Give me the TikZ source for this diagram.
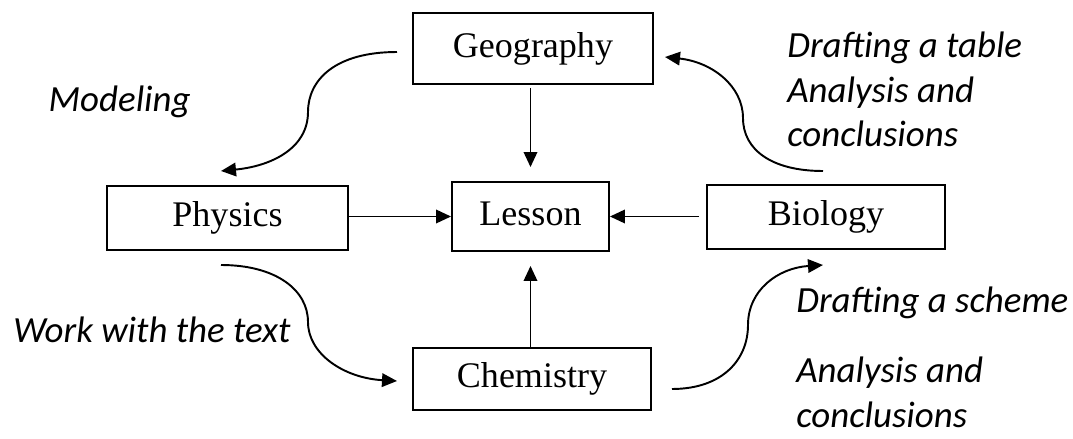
\documentclass[tikz,border=0pt]{standalone}
\usepackage{fontspec}
\setmainfont{Liberation Serif}
\newfontfamily\notefont{Carlito}
\usetikzlibrary{arrows.meta}
\tikzset{
  box/.style={draw,line width=1.1pt,inner sep=0pt,text height=14.7pt,text depth=4.5pt,font=\fontsize{20.5}{24}\selectfont},
  arrow/.style={-{Triangle[length=0.3cm,width=0.27cm]},line width=1.1pt},
  note/.style={font=\notefont\itshape\fontsize{21}{25.6}\selectfont,align=left,inner sep=0pt}
}

\begin{document}
\begin{tikzpicture}[x=0.02cm,y=-0.02cm]
  \useasboundingbox (0,0) rectangle (1073,439);

  % subjects round the lesson
  \node[box,minimum width=4.8cm,minimum height=1.42cm] (geo) at (533,48.5) {Geography};
  \node[box,minimum width=3.14cm,minimum height=1.38cm] (lesson) at (530.5,216.5) {Lesson};
  \node[box,minimum width=4.82cm,minimum height=1.28cm] (phys) at (227.5,218) {Physics};
  \node[box,minimum width=4.76cm,minimum height=1.28cm] (bio) at (826,217) {Biology};
  \node[box,minimum width=4.76cm,minimum height=1.24cm] (chem) at (532,379) {Chemistry};

  \draw[arrow,shorten <=0.06cm,shorten >=0.28cm] (geo.south -| lesson) -- (lesson.north);
  \draw[arrow] (lesson.west -| phys.east) -- (lesson.west);
  \draw[arrow,shorten <=0.14cm] (lesson.east -| bio.west) -- (lesson.east);
  \draw[arrow,shorten >=0.28cm] (chem.north -| lesson) -- (lesson.south);

  % curved transitions
  \coordinate (modA) at (397,52);
  \coordinate (modB) at (221,171);
  \coordinate (tabA) at (823,171);
  \coordinate (tabB) at (665,57);
  \coordinate (txtA) at (221,265);
  \coordinate (txtB) at (397,381);
  \coordinate (schA) at (672,389);
  \coordinate (schB) at (823,265);

  \draw[arrow] (modA) .. controls (335,52) and (308,80) .. (308,112)
    .. controls (308,148) and (272,166) .. (modB);
  \draw[arrow] (tabA) .. controls (772,171) and (743,150) .. (743,118)
    .. controls (743,86) and (712,62) .. (tabB);
  \draw[arrow] (txtA) .. controls (276,265) and (308,290) .. (308,322)
    .. controls (308,354) and (344,378) .. (txtB);
  \draw[arrow] (schA) .. controls (722,389) and (748,360) .. (748,325)
    .. controls (748,290) and (778,268) .. (schB);

  % labels
  \node[note,anchor=base east] (modeling) at (191,112) {Modeling};
  \node[note,anchor=base west] (table) at (787,147) {Drafting a table\\Analysis and\\conclusions};
  \node[note,anchor=base west] (textwork) at (13,342) {Work with the text};
  \node[note,anchor=base west] (scheme) at (796,313) {Drafting a scheme};
  \node[note,anchor=base west] (analysis) at (796,427) {Analysis and\\conclusions};
\end{tikzpicture}
\end{document}
